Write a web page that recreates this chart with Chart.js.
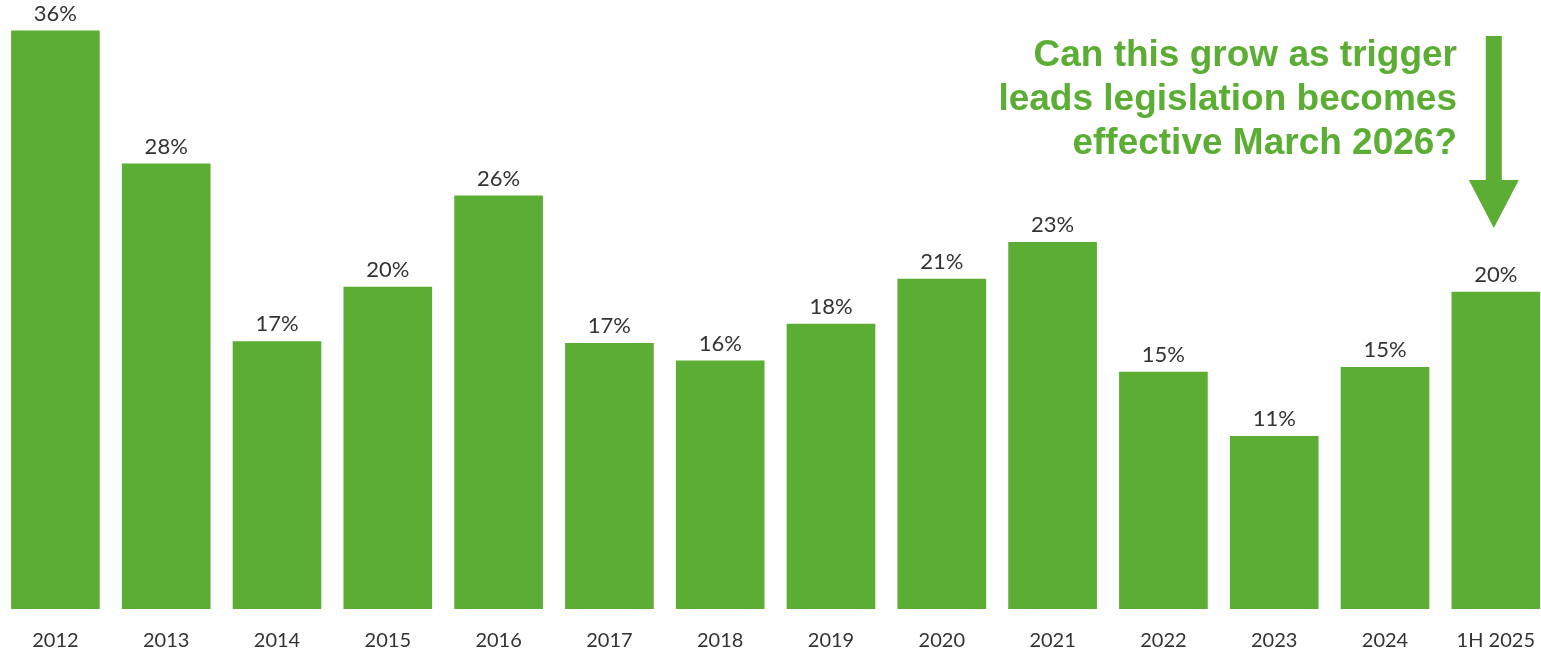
<!DOCTYPE html>
<html>
<head>
<meta charset="utf-8">
<script src="https://cdn.jsdelivr.net/npm/chart.js@4"></script>
<style>
  html, body { margin: 0; padding: 0; background: #fff; overflow: hidden; }
  #wrap { width: 1555px; height: 654px; }
</style>
</head>
<body>
<div id="wrap"><canvas id="grafica"></canvas></div>
<script>
// datos
const years = ['2012', '2013', '2014', '2015', '2016', '2017', '2018', '2019', '2020', '2021', '2022', '2023', '2024', '1H 2025'];
const shares = [36.1, 27.8, 16.7, 20.1, 25.8, 16.6, 15.5, 17.8, 20.6, 22.9, 14.8, 10.8, 15.1, 19.8];
const shareLabels = ['36%', '28%', '17%', '20%', '26%', '17%', '16%', '18%', '21%', '23%', '15%', '11%', '15%', '20%'];
const noteLines = ['Can this grow as trigger', 'leads legislation becomes', 'effective March 2026?'];

const verde = '#5bad33';

// etiquetas encima de cada barra
const etiquetas = {
    id: 'etiquetas',
    afterDatasetsDraw(chart) {
        const ctx = chart.ctx;
        const meta = chart.getDatasetMeta(0);
        ctx.save();
        ctx.font = '22px Lato, "Open Sans", sans-serif';
        ctx.fillStyle = '#333';
        ctx.textAlign = 'center';
        ctx.textBaseline = 'middle';
        meta.data.forEach((bar, i) => {
            ctx.fillText(shareLabels[i], bar.x, bar.y - 17);
        });
        ctx.restore();
    }
};

// nota y flecha
const nota = {
    id: 'nota',
    afterDraw(chart) {
        const ctx = chart.ctx;
        const x = chart.scales.x.getPixelForValue(years.length - 1);
        ctx.save();
        ctx.font = 'bold 37px "Liberation Sans", Arial, sans-serif';
        ctx.fillStyle = verde;
        ctx.textAlign = 'right';
        ctx.textBaseline = 'middle';
        noteLines.forEach((t, i) => ctx.fillText(t, 1457, 56 + i * 44));

        // flecha hacia abajo
        const cx = x - 2;
        ctx.fillRect(cx - 8, 36, 16, 146);
        ctx.beginPath();
        ctx.moveTo(cx - 25, 180);
        ctx.lineTo(cx + 25, 180);
        ctx.lineTo(cx, 228);
        ctx.closePath();
        ctx.fill();
        ctx.restore();
    }
};

new Chart(document.getElementById('grafica'), {
    type: 'bar',
    data: {
        labels: years,
        datasets: [{
            data: shares,
            backgroundColor: verde,
            barPercentage: 0.8,
            categoryPercentage: 1.0
        }]
    },
    options: {
        responsive: true,
        maintainAspectRatio: false,
        animation: false,
        layout: { padding: 0 },
        plugins: {
            legend: { display: false },
            tooltip: { enabled: false }
        },
        scales: {
            x: {
                grid: { display: false, drawTicks: false },
                border: { display: false },
                afterFit(scale) { scale.height = 45; },
                ticks: {
                    color: '#333',
                    font: { size: 20, family: 'Lato, "Open Sans", sans-serif' },
                    padding: 20,
                    maxRotation: 0,
                    autoSkip: false
                }
            },
            y: {
                display: false,
                min: 0,
                max: 38
            }
        }
    },
    plugins: [etiquetas, nota]
});
</script>
</body>
</html>
